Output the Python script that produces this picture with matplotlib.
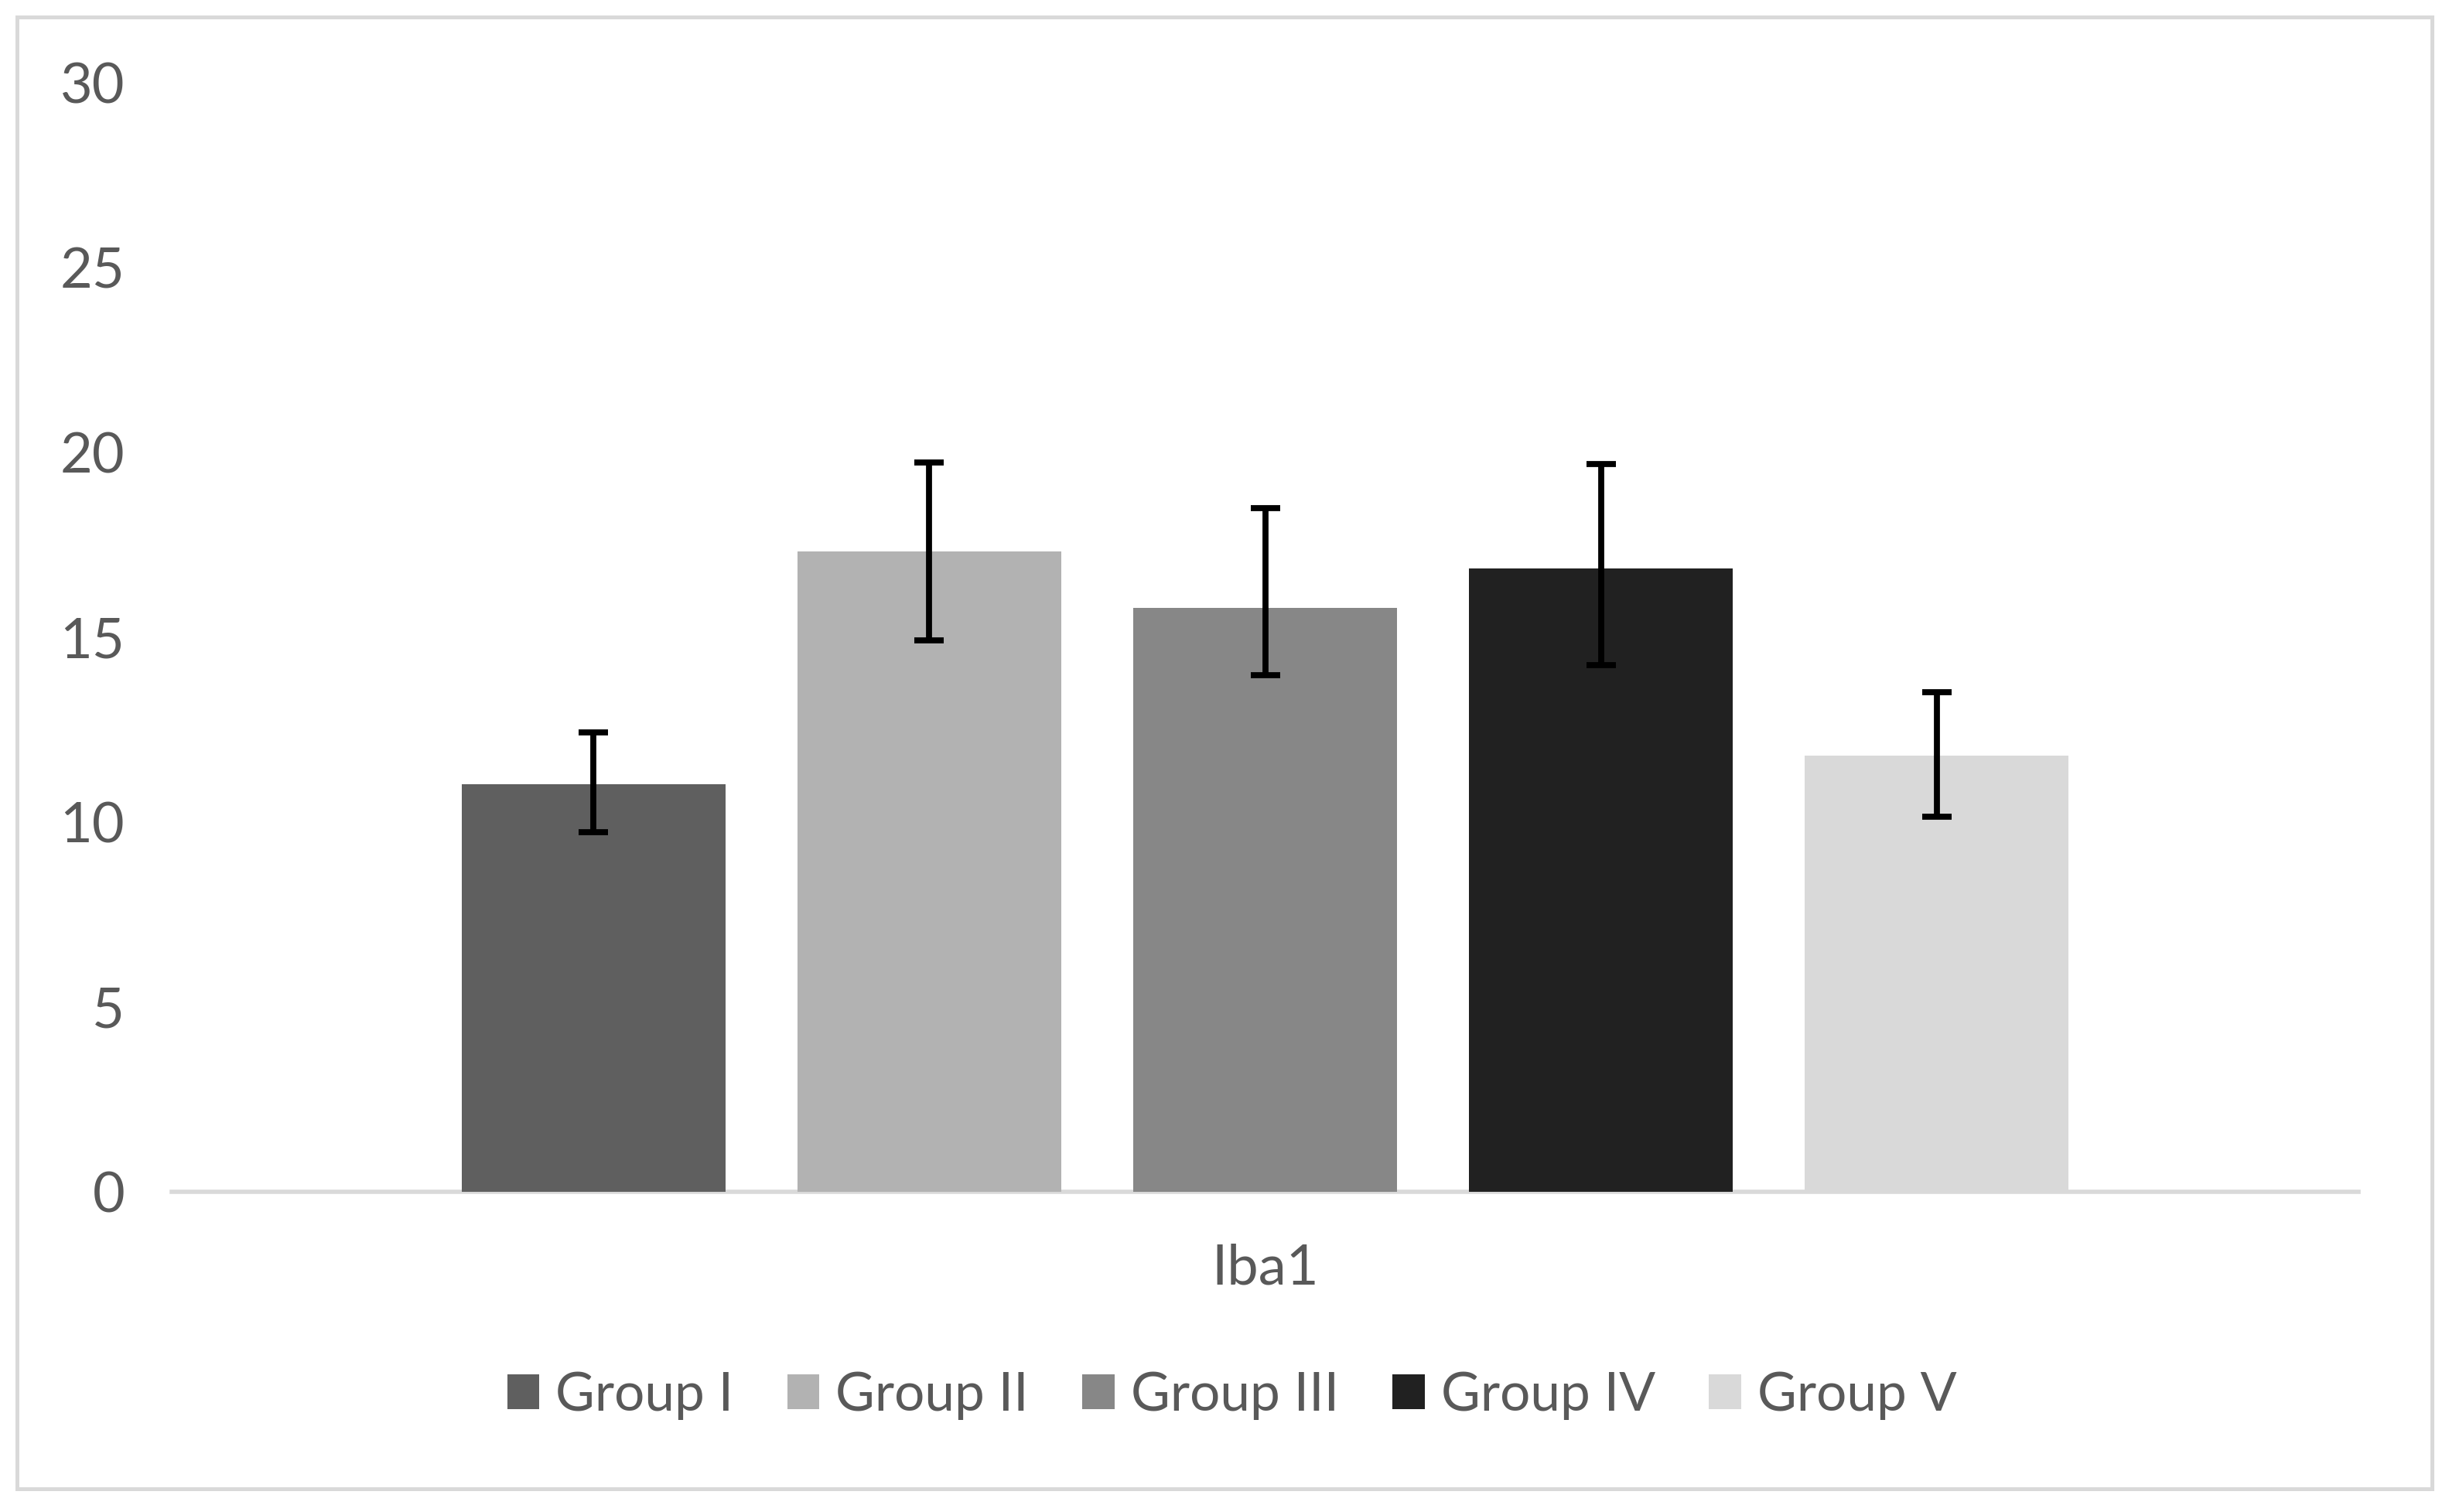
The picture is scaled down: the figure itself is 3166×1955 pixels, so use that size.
import matplotlib
matplotlib.use("Agg")
import matplotlib.pyplot as plt
from matplotlib.patches import Rectangle
import numpy as np

categories = ["Iba1"]
groups = ["Group I", "Group II", "Group III", "Group IV", "Group V"]
means = [11.03, 17.32, 15.80, 16.86, 11.79]
err_lower = [1.31, 2.41, 1.82, 2.62, 1.65]
err_upper = [1.39, 2.41, 2.70, 2.83, 1.73]
colors = ["#5f5f5f", "#b2b2b2", "#878787", "#212121", "#d9d9d9"]
yticks = [0, 5, 10, 15, 20, 25, 30]

plt.rcParams['font.family'] = ['Lato', 'DejaVu Sans']
txt = "#595959"

fig = plt.figure(figsize=(15.83, 9.775), dpi=200)
ax = fig.add_axes([0.0702, 0.2118, 0.963 - 0.0702, 0.9452 - 0.2118])

n = len(groups)
pos = np.arange(n) - (n - 1) / 2
width = 0.786
for i in range(n):
    ax.bar(pos[i], means[i], width=width, color=colors[i], label=groups[i], zorder=2)
    ax.errorbar(pos[i], means[i], yerr=[[err_lower[i]], [err_upper[i]]], fmt='none',
                ecolor='black', elinewidth=2.8, capsize=7, capthick=2.8, zorder=3)

ax.set_xlim(-3.256, 3.256)
ax.set_ylim(0, 30)
ax.set_yticks(yticks)
ax.set_yticklabels([str(t) for t in yticks], fontsize=26, color=txt)
ax.tick_params(axis='y', length=0, pad=22)
ax.set_xticks([0])
ax.set_xticklabels(categories, fontsize=26, color=txt)
ax.tick_params(axis='x', length=0, pad=24)
for s in ['left', 'right', 'top']:
    ax.spines[s].set_visible(False)
ax.spines['bottom'].set_color('#d9d9d9')
ax.spines['bottom'].set_linewidth(2.0)
ax.spines['bottom'].set_zorder(1)

leg = fig.legend(loc='center', bbox_to_anchor=(0.503, 0.077), ncol=5, frameon=False,
                 fontsize=25, handlelength=0.6, handleheight=0.6, handletextpad=0.3,
                 columnspacing=1.0)
for t in leg.get_texts():
    t.set_color(txt)

fig.patches.append(Rectangle((11/1568, 1 - 953/968), (1557-11)/1568, (953-11)/968,
                             transform=fig.transFigure, fill=False,
                             edgecolor='#d9d9d9', linewidth=1.8, zorder=0))

fig.savefig("out.png", dpi=200, facecolor='white')
